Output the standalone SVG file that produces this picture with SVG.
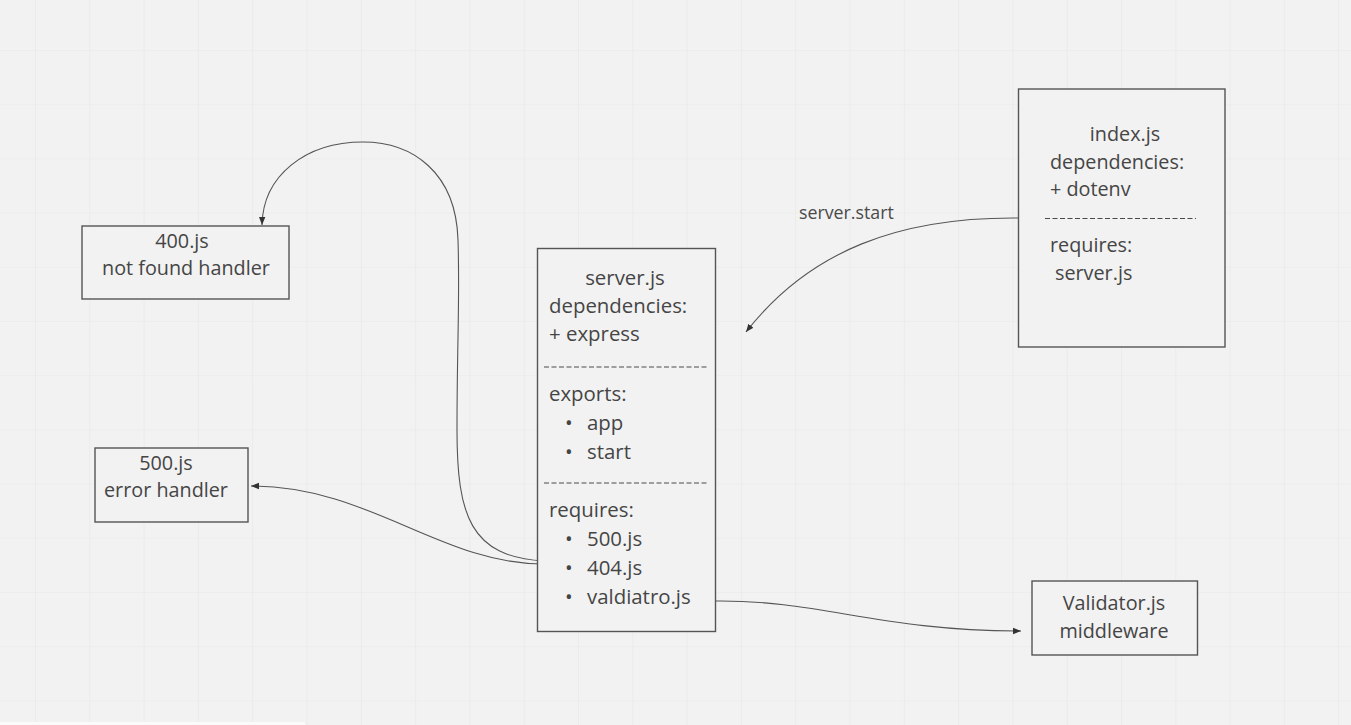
<svg xmlns="http://www.w3.org/2000/svg" width="1351" height="725" viewBox="0 0 1351 725">
<style>
.box{fill:#f2f2f2;stroke:#555;stroke-width:1.4}
.t{font-family:"Open Sans","Liberation Sans",sans-serif;font-size:19.8px;fill:#454545}
.ts{font-family:"Open Sans","Liberation Sans",sans-serif;font-size:20.4px;fill:#454545}
.c{text-anchor:middle}
.dash{stroke:#4a4a4a;stroke-width:1.2;stroke-dasharray:5 2.5}
.conn{fill:none;stroke:#555;stroke-width:1.1}
.lbl{font-family:"Open Sans","Liberation Sans",sans-serif;font-size:17.8px;fill:#4a4a4a}
</style>
<defs>
<pattern id="grid" x="35" y="50" width="54.3" height="54.2" patternUnits="userSpaceOnUse">
<path d="M0,0 V54.2 M0,0 H54.3" stroke="#e7e7e7" stroke-width="1.2" fill="none"/>
</pattern>
<marker id="arr" viewBox="0 0 10 10" refX="10" refY="5" markerWidth="8" markerHeight="8" markerUnits="userSpaceOnUse" orient="auto">
<path d="M0,1 L10,5 L0,9 z" fill="#333"/>
</marker>
</defs>
<rect width="1351" height="725" fill="#f2f2f2"/>
<rect width="1351" height="725" fill="url(#grid)"/>
<rect x="0" y="722" width="305" height="3" fill="#fafafa"/>

<g id="connectors">
<path class="conn" d="M1018,218 C 900,217 810,250 746,332" marker-end="url(#arr)"/>
<text class="lbl" x="799" y="219">server.start</text>
<path class="conn" d="M544,561 C 470,557 457,515 457,430 C 457,340 460,300 458,240 C 456,172 412,142 363,142 C 305,142 263,176 262,225" marker-end="url(#arr)"/>
<path class="conn" d="M544,564 C 440,564 370,486 251,486" marker-end="url(#arr)"/>
<path class="conn" d="M716,601 C 820,600 880,631 1021,631" marker-end="url(#arr)"/>
</g>

<g id="node-400">
<rect class="box" x="82" y="226" width="207" height="73"/>
<text class="t c" x="182" y="248">400.js</text>
<text class="t c" x="186" y="275">not found handler</text>
</g>

<g id="node-500">
<rect class="box" x="95" y="448" width="153" height="74"/>
<text class="t c" x="166" y="470">500.js</text>
<text class="t c" x="166" y="497">error handler</text>
</g>

<g id="node-server">
<rect class="box" x="537.5" y="248.5" width="178" height="383"/>
<text class="ts c" x="625" y="285">server.js</text>
<text class="ts" x="549" y="313">dependencies:</text>
<text class="ts" x="549" y="341">+ express</text>
<line class="dash" x1="544" y1="367" x2="707" y2="367"/>
<text class="ts" x="549" y="401">exports:</text>
<text class="ts" x="565" y="430">•</text>
<text class="ts" x="587" y="430">app</text>
<text class="ts" x="565" y="459">•</text>
<text class="ts" x="587" y="459">start</text>
<line class="dash" x1="544" y1="483" x2="707" y2="483"/>
<text class="ts" x="549" y="517">requires:</text>
<text class="ts" x="565" y="546">•</text>
<text class="ts" x="587" y="546">500.js</text>
<text class="ts" x="565" y="575">•</text>
<text class="ts" x="587" y="575">404.js</text>
<text class="ts" x="565" y="604">•</text>
<text class="ts" x="587" y="604">valdiatro.js</text>
</g>

<g id="node-index">
<rect class="box" x="1018.5" y="89" width="206.5" height="258"/>
<text class="t c" x="1125" y="141">index.js</text>
<text class="t" x="1050" y="169">dependencies:</text>
<text class="t" x="1050" y="196">+ dotenv</text>
<line class="dash" x1="1045" y1="218.5" x2="1196" y2="218.5"/>
<text class="t" x="1050" y="252">requires:</text>
<text class="t" x="1055" y="280">server.js</text>
</g>

<g id="node-validator">
<rect class="box" x="1032" y="581" width="165.5" height="74"/>
<text class="t c" x="1114" y="610">Validator.js</text>
<text class="t c" x="1114" y="638">middleware</text>
</g>
</svg>
